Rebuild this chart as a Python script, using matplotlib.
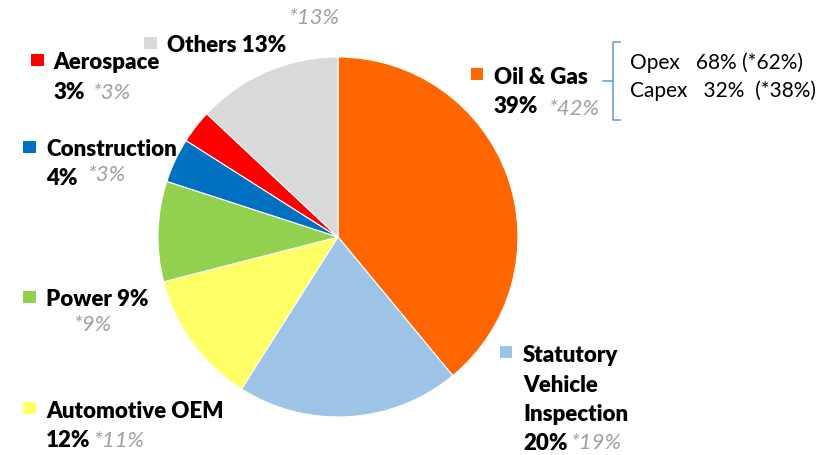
import matplotlib.pyplot as plt
from matplotlib.patches import Rectangle

# data
cats = ['Oil & Gas', 'Statutory Vehicle Inspection', 'Automotive OEM', 'Power',
        'Construction', 'Aerospace', 'Others']
share = [39, 20, 12, 9, 4, 3, 13]
prior = [42, 19, 11, 9, 3, 3, 13]
colors = ['#FF6600', '#9DC3E6', '#FFFF66', '#92D050', '#0070C0', '#FF0000', '#D9D9D9']
split_names = ['Opex', 'Capex']
split_now = [68, 32]
split_prior = [62, 38]

W, H = 839, 456
FONT = 'Lato'
FS = 16
GRAY = '#A0A0A0'

fig = plt.figure(figsize=(W / 100, H / 100), dpi=100)
ax = fig.add_axes([0, 0, 1, 1])
ax.pie(share, colors=colors, startangle=90, counterclock=False,
       center=(338, H - 238), radius=180,
       wedgeprops=dict(edgecolor='white', linewidth=0.8))
ax.set_xlim(0, W)
ax.set_ylim(0, H)
ax.set_aspect('equal')
ax.axis('off')

def txt(x, y, s, bold=True, gray=False, size=FS):
    ax.text(x, H - y, s, fontsize=size, fontfamily=FONT,
            fontweight='heavy' if bold and not gray else 'normal',
            fontstyle='italic' if gray else 'normal',
            color=GRAY if gray else 'black', ha='left', va='baseline')

def marker(x, y, c):
    ax.add_patch(Rectangle((x, H - y - 12), 12.5, 12, color=c, lw=0))

# layout per category: marker (x, top), name lines [(x, baseline)], pct, prior
layout = {
    'Oil & Gas': dict(m=(471, 69), name=[(494, 84)], pct=(494, 113), pr=(548, 115)),
    'Statutory Vehicle Inspection': dict(m=(500, 347),
        name=[(523, 362), (523, 392), (523, 421)], pct=(523, 450), pr=(570, 449)),
    'Automotive OEM': dict(m=(23, 403), name=[(46, 418)], pct=(46, 447), pr=(93, 447)),
    'Power': dict(m=(23, 292), name=[(46, 306)], pct=None, pr=(73, 331)),
    'Construction': dict(m=(23, 142), name=[(46, 156)], pct=(46, 185), pr=(87, 181)),
    'Aerospace': dict(m=(31, 55), name=[(53, 69)], pct=(53, 99), pr=(92, 99)),
    'Others': dict(m=(144, 38), name=[(167, 52)], pct=None, pr=(288, 24)),
}

for cat, s, p, c in zip(cats, share, prior, colors):
    L = layout[cat]
    marker(L['m'][0], L['m'][1], c)
    words = cat.split(' ') if len(L['name']) > 1 else [cat]
    for (x, y), w in zip(L['name'], words):
        if L['pct'] is None and w == words[-1]:
            w = f'{w} {s}%'
        txt(x, y, w)
    if L['pct'] is not None:
        txt(L['pct'][0], L['pct'][1], f'{s}%')
    txt(L['pr'][0], L['pr'][1], f'*{p}%', gray=True)

# Opex / Capex bracket
bc = '#5B9BD5'
ax.plot([620, 613, 613, 620], [H - 43, H - 43, H - 121, H - 121], color=bc, lw=1.1)
ax.plot([603, 613], [H - 82, H - 82], color=bc, lw=1.1)
txt(630, 69, f'{split_names[0]}   {split_now[0]}% (*{split_prior[0]}%)', bold=False, size=15)
txt(630, 97, f'{split_names[1]}   {split_now[1]}%  (*{split_prior[1]}%)', bold=False, size=15)

fig.savefig('out.png', dpi=100)
